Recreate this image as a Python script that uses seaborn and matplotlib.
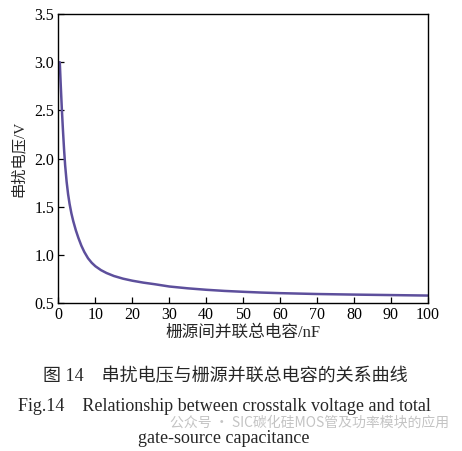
import numpy as np
import pandas as pd
import matplotlib
matplotlib.use("Agg")
import matplotlib.pyplot as plt
import seaborn as sns

# values
cap_nF = [0.35, 0.6, 0.9, 1.2, 1.5, 1.8, 2.2, 2.6, 3.0, 3.5, 4.0, 4.7, 5.4, 6.2, 7.0, 8.0,
          9.0, 10, 11.5, 13, 15, 17.5, 20, 23, 26, 30, 35, 40, 45, 50, 55, 60, 70, 80, 90, 100]
crosstalk_V = [3.0, 2.77, 2.52, 2.3, 2.1, 1.93, 1.76, 1.63, 1.53, 1.43, 1.35, 1.255, 1.175,
               1.095, 1.03, 0.965, 0.918, 0.882, 0.842, 0.812, 0.781, 0.753, 0.732, 0.712,
               0.696, 0.672, 0.653, 0.638, 0.626, 0.617, 0.609, 0.603, 0.594, 0.588, 0.583, 0.578]
xticks = list(range(0, 101, 10))
yticks = [0.5, 1.0, 1.5, 2.0, 2.5, 3.0, 3.5]

df = pd.DataFrame({"C": cap_nF, "V": crosstalk_V})

sns.set_style("ticks")
plt.rcParams["font.family"] = ["Liberation Serif", "Noto Sans CJK SC", "DejaVu Sans"]
plt.rcParams["axes.linewidth"] = 1.0

fig = plt.figure(figsize=(4.62, 4.51), dpi=100)
ax = fig.add_axes([0.1266, 0.328, 0.7994, 0.641])

sns.lineplot(data=df, x="C", y="V", ax=ax, color="#5d4f9c", linewidth=1.8)

ax.set_xlim(0, 100)
ax.set_ylim(0.5, 3.5)
ax.set_xticks(xticks)
ax.set_yticks(yticks)
ax.set_yticklabels([f"{v:.1f}" for v in yticks])
ax.tick_params(direction="in", length=4, width=0.9, labelsize=11.5, colors="black",
               top=False, right=False, pad=3)
for s in ax.spines.values():
    s.set_visible(True)
    s.set_color("black")

ax.set_xlabel("栅源间并联总电容/nF", fontsize=12, labelpad=1)
ax.set_ylabel("串扰电压/V", fontsize=11, labelpad=6)

fig.text(0.487, 0.166, "图 14    串扰电压与栅源并联总电容的关系曲线", ha="center", va="center",
         fontsize=13)
fig.text(0.485, 0.099, "Fig.14    Relationship between crosstalk voltage and total",
         ha="center", va="center", fontsize=13)
fig.text(0.484, 0.028, "gate-source capacitance", ha="center", va="center", fontsize=13)
fig.text(0.67, 0.064, "公众号 · SIC碳化硅MOS管及功率模块的应用", ha="center", va="center",
         fontsize=10, color="#c4c4c4", family=["Noto Sans CJK SC", "DejaVu Sans"])

fig.savefig("out.png", dpi=100)
